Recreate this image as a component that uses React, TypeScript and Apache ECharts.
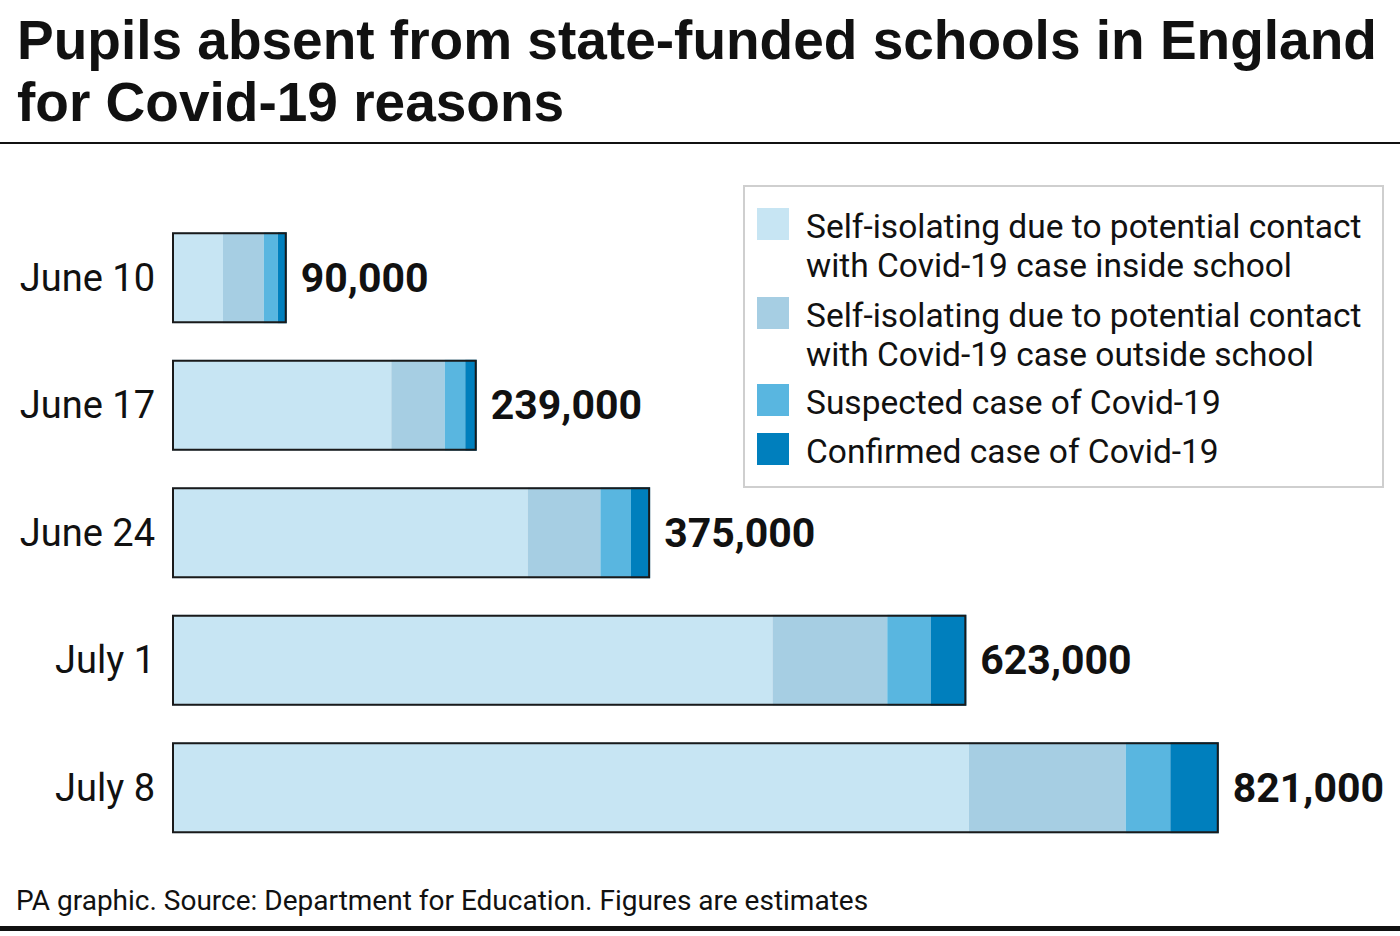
import React, { useEffect, useRef } from "react";
import * as echarts from "echarts";

const categories = ["June 10", "June 17", "June 24", "July 1", "July 8"];
const insideSchool = [40000, 172000, 279000, 471000, 625000];
const outsideSchool = [32000, 42000, 57000, 90000, 123000];
const suspected = [11000, 16000, 24000, 34000, 35000];
const confirmed = [7000, 9000, 15000, 28000, 38000];
const totals = [90000, 239000, 375000, 623000, 821000];

const seriesNames = [
  "Self-isolating due to potential contact\nwith Covid-19 case inside school",
  "Self-isolating due to potential contact\nwith Covid-19 case outside school",
  "Suspected case of Covid-19",
  "Confirmed case of Covid-19",
];
const colors = ["#c7e5f3", "#a6cee3", "#59b6e0", "#007fbd"];

const FONT = "Roboto, 'Liberation Sans', Arial, sans-serif";
const TITLE_FONT = "'Liberation Sans', Arial, Helvetica, sans-serif";

export default function App() {
  const ref = useRef<HTMLDivElement>(null);
  useEffect(() => {
    document.body.style.margin = "0";
    const chart = echarts.init(ref.current!, null, { renderer: "svg" });
    const dataSets = [insideSchool, outsideSchool, suspected, confirmed];
    const barW = 91;
    const series: any[] = dataSets.map((d, i) => ({
      name: seriesNames[i],
      type: "bar",
      stack: "total",
      barWidth: barW,
      data: d,
      itemStyle: { color: colors[i] },
      silent: true,
    }));
    series.push({
      name: "outline",
      type: "bar",
      barWidth: barW,
      barGap: "-100%",
      data: totals,
      z: 5,
      itemStyle: { color: "rgba(0,0,0,0)", borderColor: "#1a1a1a", borderWidth: 2 },
      label: {
        show: true,
        position: "right",
        distance: 14,
        formatter: (p: any) => Number(p.value).toLocaleString("en-GB"),
        fontFamily: FONT,
        fontSize: 41,
        fontWeight: "bold",
        color: "#111",
      },
      silent: true,
    });

    const legendTop = [208, 297, 384, 433];
    const legendGraphics: any[] = [
      {
        type: "rect",
        shape: { x: 744, y: 186, width: 639, height: 301 },
        style: { fill: "#fff", stroke: "#cfcfcf", lineWidth: 2 },
        z: 1,
      },
    ];
    seriesNames.forEach((n, i) => {
      legendGraphics.push({
        type: "rect",
        shape: { x: 757, y: legendTop[i], width: 32, height: 32 },
        style: { fill: colors[i] },
        z: 2,
      });
      legendGraphics.push({
        type: "text",
        x: 806,
        y: legendTop[i] - 1,
        style: {
          text: n,
          fontFamily: FONT,
          fontSize: 33.5,
          lineHeight: 39,
          fill: "#111",
          textVerticalAlign: "top",
        },
        z: 2,
      });
    });

    chart.setOption({
      animation: false,
      backgroundColor: "#fff",
      title: {
        text: "Pupils absent from state-funded schools in England\nfor Covid-19 reasons",
        left: 17,
        top: 9,
        padding: 0,
        textStyle: {
          fontFamily: TITLE_FONT,
          fontSize: 55,
          fontWeight: "bold",
          lineHeight: 62,
          color: "#111",
        },
      },
      grid: { left: 172, top: 214, width: 1147.5, height: 637.5 },
      xAxis: { type: "value", min: 0, max: 900000, show: false },
      yAxis: {
        type: "category",
        data: categories,
        inverse: true,
        axisLine: { show: false },
        axisTick: { show: false },
        axisLabel: { fontFamily: FONT, fontSize: 38, color: "#111", margin: 17 },
      },
      series,
      graphic: [
        {
          type: "line",
          shape: { x1: 0, y1: 143, x2: 1400, y2: 143 },
          style: { stroke: "#111", lineWidth: 2 },
        },
        ...legendGraphics,
        {
          type: "text",
          x: 16,
          y: 900,
          style: {
            text: "PA graphic. Source: Department for Education. Figures are estimates",
            fontFamily: FONT,
            fontSize: 28,
            fill: "#111",
            textVerticalAlign: "middle",
          },
        },
        {
          type: "rect",
          shape: { x: 0, y: 926, width: 1400, height: 5 },
          style: { fill: "#111" },
        },
      ],
    });
    return () => chart.dispose();
  }, []);
  return <div ref={ref} style={{ width: 1400, height: 936 }} />;
}
